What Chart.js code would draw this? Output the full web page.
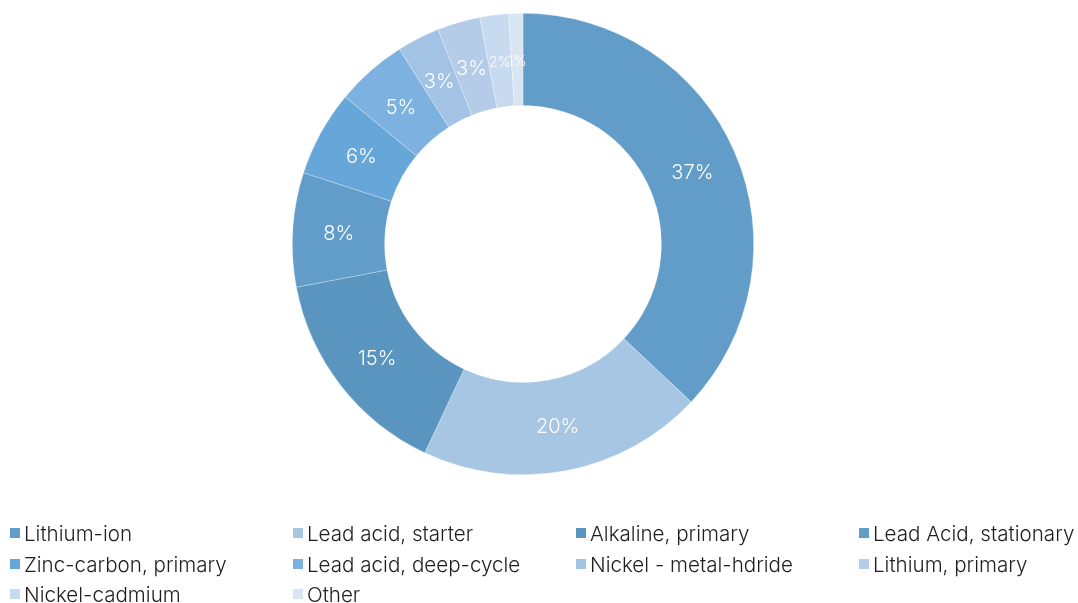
<!DOCTYPE html>
<html>
<head>
<meta charset="utf-8">
<script src="https://cdn.jsdelivr.net/npm/chart.js@4"></script>
<style>
html,body{margin:0;padding:0;background:#fff;}
#wrap{width:1078px;height:603px;position:relative;}
</style>
</head>
<body>
<div id="wrap"><canvas id="c" width="1078" height="603"></canvas></div>
<script>
const categories = ["Lithium-ion","Lead acid, starter","Alkaline, primary","Lead Acid, stationary","Zinc-carbon, primary","Lead acid, deep-cycle","Nickel - metal-hdride","Lithium, primary","Nickel-cadmium","Other"];
const shares = [37,20,15,8,6,5,3,3,2,1];
const colors = ["#629dc9","#a6c6e4","#5a95c0","#629dca","#66a6d8","#7cb1e0","#a2c3e3","#b5cce8","#c8daf0","#d9e5f2"];

const FONT = '"Helvetica Neue", Inter, "Liberation Sans", Arial, sans-serif';

const labelPlugin = {
  id: 'sliceLabels',
  afterDatasetsDraw(chart) {
    const ctx = chart.ctx;
    const meta = chart.getDatasetMeta(0);
    ctx.save();
    ctx.fillStyle = '#ffffff';
    ctx.textAlign = 'center';
    ctx.textBaseline = 'middle';
    meta.data.forEach((arc, i) => {
      const p = arc.getProps(['startAngle','endAngle','innerRadius','outerRadius','x','y'], true);
      const a = (p.startAngle + p.endAngle) / 2;
      const r = (p.innerRadius + p.outerRadius) / 2;
      const v = shares[i];
      const size = v >= 3 ? 20 : 14;
      ctx.font = '300 ' + size + 'px ' + FONT;
      const x = p.x + Math.cos(a) * r;
      const y = p.y + Math.sin(a) * r + 2;
      ctx.fillText(v + '%', x, y);
    });
    ctx.restore();
  }
};

const legendPlugin = {
  id: 'gridLegend',
  afterDraw(chart) {
    const ctx = chart.ctx;
    ctx.save();
    // pick a size so the longest entry spans about the same width as in the reference
    let size = 19;
    ctx.font = '300 ' + size + 'px ' + FONT;
    const w = ctx.measureText('Lead Acid, stationary').width;
    size = Math.max(16, Math.min(22, size * 201 / w));
    ctx.font = '300 ' + size.toFixed(1) + 'px ' + FONT;
    ctx.textBaseline = 'middle';
    ctx.textAlign = 'left';
    const colX = [10, 293, 576, 859];
    const rowY = [535, 566, 596];
    categories.forEach((name, i) => {
      const col = i % 4, row = Math.floor(i / 4);
      const x = colX[col], y = rowY[row];
      ctx.fillStyle = colors[i];
      ctx.fillRect(x, y - 7, 10, 10);
      ctx.fillStyle = '#1e1e1e';
      ctx.fillText(name, x + 14, y);
    });
    ctx.restore();
  }
};

new Chart(document.getElementById('c'), {
  type: 'doughnut',
  data: {
    labels: categories,
    datasets: [{
      data: shares,
      backgroundColor: colors,
      borderColor: 'rgba(255,255,255,0.45)',
      borderWidth: 0.6
    }]
  },
  options: {
    responsive: false,
    animation: false,
    cutout: '60%',
    layout: { padding: { top: 13, bottom: 128, left: 0, right: 32 } },
    plugins: {
      legend: { display: false },
      tooltip: { enabled: false }
    }
  },
  plugins: [labelPlugin, legendPlugin]
});
</script>
</body>
</html>
